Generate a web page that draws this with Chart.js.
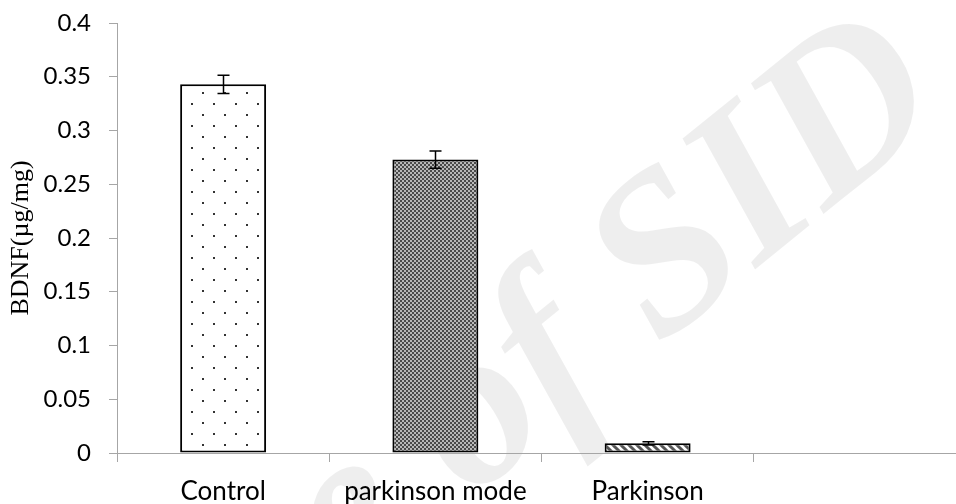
<!DOCTYPE html>
<html>
<head>
<meta charset="utf-8">
<script src="https://cdn.jsdelivr.net/npm/chart.js@4.4.1/dist/chart.umd.min.js"></script>
<style>
  html, body { margin: 0; padding: 0; background: #fff; overflow: hidden; }
  #wrap { position: absolute; left: 0; top: 0; width: 975px; height: 504px; }
</style>
</head>
<body>
<div id="wrap"><canvas id="c"></canvas></div>
<script>
const categories = ['Control', 'parkinson mode', 'Parkinson', ''];
const bdnfValues = [0.343, 0.273, 0.009, null];
const errorValues = [0.0085, 0.008, 0.0015, null];
const yTickLabels = ['0', '0.05', '0.1', '0.15', '0.2', '0.25', '0.3', '0.35', '0.4'];
const yAxisTitle = 'BDNF(µg/mg)';
const watermarkText = 'Archive of SID';

function dotPattern() {
  const c = document.createElement('canvas');
  c.width = 22; c.height = 22;
  const g = c.getContext('2d');
  g.fillStyle = '#ffffff'; g.fillRect(0, 0, 22, 22);
  g.fillStyle = '#333333';
  g.fillRect(4, 4, 2, 2);
  g.fillRect(15, 15, 2, 2);
  return g.createPattern(c, 'repeat');
}
function checkerPattern() {
  const c = document.createElement('canvas');
  c.width = 4; c.height = 4;
  const g = c.getContext('2d');
  g.fillStyle = '#b8b8b8'; g.fillRect(0, 0, 4, 4);
  g.fillStyle = '#4a4a4a';
  g.fillRect(0, 0, 2, 2);
  g.fillRect(2, 2, 2, 2);
  return g.createPattern(c, 'repeat');
}
function hatchPattern() {
  const c = document.createElement('canvas');
  c.width = 8; c.height = 8;
  const g = c.getContext('2d');
  g.fillStyle = '#ffffff'; g.fillRect(0, 0, 8, 8);
  g.strokeStyle = '#555555'; g.lineWidth = 3;
  g.beginPath();
  g.moveTo(-2, -2); g.lineTo(10, 10);
  g.moveTo(-10, -2); g.lineTo(2, 10);
  g.moveTo(6, -2); g.lineTo(18, 10);
  g.stroke();
  return g.createPattern(c, 'repeat');
}

const errorBarPlugin = {
  id: 'errorBars',
  afterDatasetsDraw(chart) {
    const ctx = chart.ctx;
    const y = chart.scales.y;
    const meta = chart.getDatasetMeta(0);
    ctx.save();
    ctx.strokeStyle = '#000';
    ctx.lineWidth = 1.5;
    meta.data.forEach((bar, i) => {
      const v = bdnfValues[i], e = errorValues[i];
      if (v == null || e == null) return;
      const yt = y.getPixelForValue(v + e);
      const yb = y.getPixelForValue(v - e);
      const x = Math.round(bar.x) + 0.5;
      ctx.beginPath();
      ctx.moveTo(x, yt); ctx.lineTo(x, yb);
      ctx.moveTo(x - 6, yt); ctx.lineTo(x + 6, yt);
      ctx.moveTo(x - 6, yb); ctx.lineTo(x + 6, yb);
      ctx.stroke();
    });
    ctx.restore();
  }
};

const watermarkPlugin = {
  id: 'watermark',
  beforeDraw(chart) {
    const ctx = chart.ctx;
    ctx.save();
    ctx.translate(470, 500);
    ctx.rotate(-0.68);
    ctx.font = 'italic bold 225px "Liberation Serif"';
    ctx.fillStyle = 'rgba(0,0,0,0.065)';
    ctx.textAlign = 'left';
    ctx.textBaseline = 'alphabetic';
    const off = ctx.measureText('Archive ').width;
    ctx.fillText(watermarkText, -off, 0);
    ctx.restore();
  }
};

new Chart(document.getElementById('c'), {
  type: 'bar',
  data: {
    labels: categories,
    datasets: [{
      data: bdnfValues,
      backgroundColor: [dotPattern(), checkerPattern(), hatchPattern(), '#fff'],
      borderColor: '#000',
      borderWidth: 2,
      borderSkipped: false,
      categoryPercentage: 1,
      barPercentage: 0.405
    }]
  },
  options: {
    responsive: true,
    maintainAspectRatio: false,
    animation: false,
    layout: { padding: { left: 0, right: 9, top: 23, bottom: 0 } },
    plugins: { legend: { display: false }, tooltip: { enabled: false } },
    scales: {
      x: {
        offset: true,
        grid: { display: true, offset: true, drawOnChartArea: false, tickLength: 9, color: '#a6a6a6', lineWidth: 1 },
        border: { display: true, color: '#a6a6a6', width: 1 },
        ticks: { color: '#000', font: { family: 'Lato', size: 26 }, padding: 14, maxRotation: 0, autoSkip: false },
        afterFit(scale) { scale.height = 51; }
      },
      y: {
        min: 0, max: 0.4,
        ticks: {
          stepSize: 0.05,
          color: '#000',
          font: { family: 'Lato', size: 24 },
          padding: 18,
          callback: (v, i) => yTickLabels[i]
        },
        grid: { display: true, drawOnChartArea: false, tickLength: 8, color: '#a6a6a6', lineWidth: 1 },
        border: { display: true, color: '#a6a6a6', width: 1 },
        title: { display: true, text: yAxisTitle, color: '#000', font: { family: 'Liberation Serif', size: 26 }, padding: { top: 6, bottom: 0 } },
        afterFit(scale) { scale.width = 117; scale.paddingTop = 0; scale.paddingBottom = 0; }
      }
    }
  },
  plugins: [watermarkPlugin, errorBarPlugin]
});
</script>
</body>
</html>
